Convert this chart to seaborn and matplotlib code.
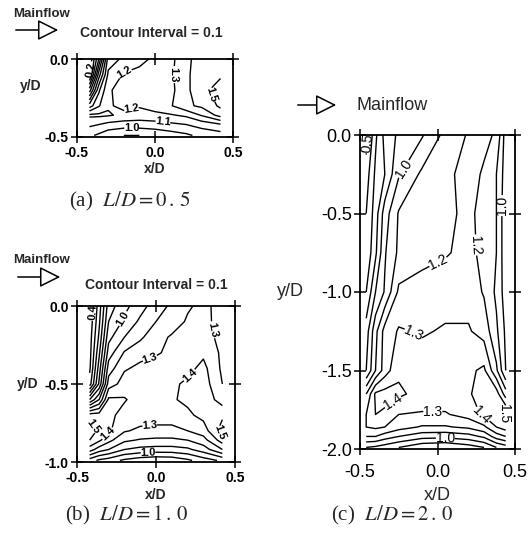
import numpy as np
import seaborn as sns
import matplotlib.pyplot as plt
from matplotlib.patches import FancyArrowPatch

sns.set_theme(style="ticks")
plt.rcParams["font.family"] = ["Liberation Sans", "DejaVu Sans"]
plt.rcParams["mathtext.fontset"] = "stix"
plt.rcParams["axes.unicode_minus"] = False

# contour values (rows = y from top wall downwards)
xa = [-0.42, -0.36, -0.3, -0.2, -0.1, 0.0, 0.1, 0.2, 0.3, 0.42]
ya = [0.0, -0.1, -0.2, -0.3, -0.36, -0.42, -0.49]
za = [
    [0.10, 0.50, 1.05, 1.12, 1.17, 1.22, 1.27, 1.38, 1.44, 1.46],
    [0.15, 0.75, 1.12, 1.21, 1.23, 1.25, 1.28, 1.38, 1.46, 1.48],
    [0.55, 0.98, 1.19, 1.23, 1.25, 1.26, 1.27, 1.38, 1.46, 1.56],
    [0.95, 1.09, 1.19, 1.22, 1.21, 1.25, 1.29, 1.38, 1.42, 1.52],
    [1.22, 1.22, 1.21, 1.18, 1.16, 1.17, 1.19, 1.22, 1.31, 1.44],
    [1.12, 1.10, 1.07, 1.05, 1.05, 1.06, 1.08, 1.10, 1.14, 1.19],
    [1.02, 0.98, 0.93, 0.90, 0.90, 0.92, 0.95, 0.98, 1.03, 1.05],
]

xb = [-0.42, -0.36, -0.3, -0.2, -0.1, 0.0, 0.1, 0.2, 0.3, 0.42]
yb = [0.0, -0.1, -0.2, -0.3, -0.4, -0.5, -0.6, -0.7, -0.8, -0.86, -0.92, -0.99]
zb = [
    [0.32, 0.55, 0.85, 0.97, 1.06, 1.15, 1.22, 1.29, 1.32, 1.27],
    [0.33, 0.58, 0.90, 1.02, 1.12, 1.20, 1.26, 1.31, 1.33, 1.26],
    [0.35, 0.62, 0.97, 1.10, 1.18, 1.27, 1.31, 1.32, 1.34, 1.27],
    [0.36, 0.68, 1.05, 1.21, 1.27, 1.29, 1.32, 1.34, 1.38, 1.28],
    [0.38, 0.75, 1.15, 1.29, 1.32, 1.34, 1.35, 1.37, 1.43, 1.28],
    [0.45, 0.82, 1.25, 1.34, 1.34, 1.36, 1.38, 1.42, 1.45, 1.30],
    [0.90, 1.10, 1.42, 1.41, 1.35, 1.36, 1.39, 1.42, 1.47, 1.35],
    [1.45, 1.45, 1.43, 1.36, 1.35, 1.35, 1.35, 1.38, 1.43, 1.48],
    [1.55, 1.48, 1.42, 1.31, 1.28, 1.27, 1.27, 1.30, 1.35, 1.55],
    [1.50, 1.42, 1.33, 1.22, 1.19, 1.18, 1.18, 1.20, 1.26, 1.45],
    [1.35, 1.25, 1.20, 1.10, 1.07, 1.06, 1.06, 1.08, 1.15, 1.30],
    [1.05, 0.98, 0.95, 0.88, 0.84, 0.82, 0.83, 0.88, 0.95, 1.02],
]

xc = [-0.46, -0.4, -0.34, -0.25, -0.1, 0.05, 0.2, 0.3, 0.38, 0.44]
yc = [0.0, -0.25, -0.5, -0.75, -1.0, -1.25, -1.5, -1.65, -1.78, -1.86, -1.92, -1.99]
zc = [
    [0.45, 0.68, 0.83, 0.92, 0.99, 1.13, 1.21, 1.22, 1.19, 0.95],
    [0.55, 0.72, 0.80, 0.99, 1.12, 1.18, 1.23, 1.19, 1.10, 0.95],
    [0.60, 0.75, 0.95, 1.11, 1.15, 1.18, 1.22, 1.17, 1.10, 0.93],
    [0.62, 0.78, 0.99, 1.12, 1.16, 1.19, 1.23, 1.17, 1.10, 0.93],
    [0.70, 0.90, 1.01, 1.22, 1.25, 1.26, 1.26, 1.19, 1.08, 0.95],
    [0.85, 1.07, 1.24, 1.31, 1.29, 1.31, 1.31, 1.26, 1.12, 0.98],
    [0.90, 1.10, 1.25, 1.38, 1.35, 1.35, 1.38, 1.42, 1.22, 1.00],
    [1.20, 1.42, 1.44, 1.42, 1.36, 1.36, 1.39, 1.44, 1.45, 1.25],
    [1.30, 1.40, 1.38, 1.30, 1.29, 1.29, 1.34, 1.42, 1.46, 1.52],
    [1.30, 1.32, 1.30, 1.24, 1.19, 1.19, 1.22, 1.28, 1.40, 1.45],
    [1.20, 1.20, 1.15, 1.10, 1.04, 1.03, 1.06, 1.12, 1.25, 1.30],
    [1.00, 0.98, 0.95, 0.90, 0.82, 0.80, 0.85, 0.90, 1.00, 1.05],
]

levels = np.round(np.arange(0.1, 1.65, 0.1), 1)
xticks = [-0.5, 0.0, 0.5]
xticklabels = ["-0.5", "0.0", "0.5"]
yticks_a = [0.0, -0.5]
yticks_b = [0.0, -0.5, -1.0]
yticks_c = [0.0, -0.5, -1.0, -1.5, -2.0]
captions = [r"(a)  $L/D=0\,.\,5$", r"(b)  $L/D=1\,.\,0$", r"(c)  $L/D=2\,.\,0$"]

W, H = 531, 543
fig = plt.figure(figsize=(W / 100, H / 100), dpi=100)
fig.patch.set_facecolor("white")


def fx(px):
    return px / W


def fy(py):
    return 1 - py / H


def add_ax(l, t, r, b):
    return fig.add_axes([fx(l), fy(b), (r - l) / W, (b - t) / H])


def draw(ax, x, y, z, yticks, labels, fs, lab_fs, weight, xpad):
    zz = np.array(z)
    sets = {}
    for lev in levels:
        if zz.min() < lev < zz.max():
            sets[lev] = ax.contour(x, y, zz, levels=[lev], colors="black", linewidths=1.0)
    for lev, pts in labels:
        txts = sets[lev].clabel(manual=pts, fmt="%.1f", fontsize=lab_fs,
                                inline=True, inline_spacing=1)
        for t in txts:
            t.set_fontweight(weight)
            t.set_color("black")
    ax.set_xlim(-0.5, 0.5)
    ax.set_ylim(yticks[-1], 0.0)
    ax.set_xticks(xticks)
    ax.set_xticklabels(xticklabels)
    ax.set_yticks(yticks)
    ax.set_yticklabels([f"{v:.1f}" for v in yticks])
    ax.tick_params(direction="inout", length=8, width=1.1, top=True, right=True,
                   labelsize=fs, colors="black", pad=2)
    ax.tick_params(axis="x", pad=xpad)
    for lab in ax.get_xticklabels() + ax.get_yticklabels():
        lab.set_fontweight(weight)
    for s in ax.spines.values():
        s.set_linewidth(1.3)
        s.set_color("black")
    ax.set_facecolor("white")
    ax.grid(False)


def arrow(x0, x1, py):
    fig.add_artist(FancyArrowPatch((fx(x0), fy(py)), (fx(x1), fy(py)),
                                   transform=fig.transFigure,
                                   arrowstyle="-|>,head_length=0.8,head_width=0.4",
                                   mutation_scale=16, fc="white", ec="black", lw=1.1))


# (a)
ax_a = add_ax(77, 59, 233, 137)
draw(ax_a, xa, ya, za, yticks_a,
     [(0.2, [(-0.41, -0.07)]), (1.2, [(-0.19, -0.1), (-0.15, -0.33)]),
      (1.3, [(0.12, -0.1)]), (1.5, [(0.37, -0.22)]),
      (1.1, [(0.05, -0.41)]), (1.0, [(-0.15, -0.46)])],
     10, 8, "bold", 2.5)
ax_a.text(-0.3, 0.65, "y/D", transform=ax_a.transAxes, ha="center", va="center",
          fontsize=10, fontweight="bold")
ax_a.text(0.5, -0.41, "x/D", transform=ax_a.transAxes, ha="center", va="center",
          fontsize=10, fontweight="bold")

# (b)
ax_b = add_ax(77, 306, 235, 462)
draw(ax_b, xb, yb, zb, yticks_b,
     [(0.4, [(-0.41, -0.04)]), (1.0, [(-0.21, -0.08)]), (1.3, [(-0.04, -0.33), (0.37, -0.15), (-0.04, -0.76)]),
      (1.4, [(0.2, -0.43), (-0.31, -0.81)]), (1.5, [(-0.42, -0.8), (0.41, -0.8)]),
      (1.0, [(-0.05, -0.95)])],
     10, 8, "bold", 2.5)
ax_b.text(-0.31, 0.5, "y/D", transform=ax_b.transAxes, ha="center", va="center",
          fontsize=10, fontweight="bold")
ax_b.text(0.5, -0.21, "x/D", transform=ax_b.transAxes, ha="center", va="center",
          fontsize=10, fontweight="bold")

# (c)
ax_c = add_ax(360, 135, 515, 449)
draw(ax_c, xc, yc, zc, yticks_c,
     [(0.5, [(-0.45, -0.05)]), (1.0, [(-0.24, -0.2), (0.42, -0.45), (0.05, -1.94)]),
      (1.2, [(0.0, -0.8), (0.26, -0.7)]), (1.3, [(-0.15, -1.25), (-0.03, -1.77)]),
      (1.4, [(-0.27, -1.73), (0.28, -1.8)]), (1.5, [(0.43, -1.77)])],
     13, 10, "normal", 7)
ax_c.text(-0.45, 0.5, "y/D", transform=ax_c.transAxes, ha="center", va="center",
          fontsize=13)
ax_c.text(0.5, -0.148, "x/D", transform=ax_c.transAxes, ha="center", va="center",
          fontsize=13)

# mainflow arrows and notes
fig.text(fx(42), fy(14), "Mainflow", ha="center", va="center", fontsize=9.5, fontweight="bold")
arrow(13, 61, 30)
fig.text(fx(80), fy(33), "Contour Interval = 0.1", ha="left", va="center", fontsize=10, fontweight="bold")

fig.text(fx(42), fy(260), "Mainflow", ha="center", va="center", fontsize=9.5, fontweight="bold")
arrow(15, 63, 277)
fig.text(fx(85), fy(285), "Contour Interval = 0.1", ha="left", va="center", fontsize=10, fontweight="bold")

arrow(295, 339, 105)
fig.text(fx(357), fy(105), "Mainflow", ha="left", va="center", fontsize=13)

for cap, (cx, cy) in zip(captions, [(130, 201), (127, 515), (392, 515)]):
    fig.text(fx(cx), fy(cy), cap, ha="center", va="center", fontsize=15,
             family=["Liberation Serif", "DejaVu Serif"])

fig.savefig("out.png", dpi=100, facecolor="white")
